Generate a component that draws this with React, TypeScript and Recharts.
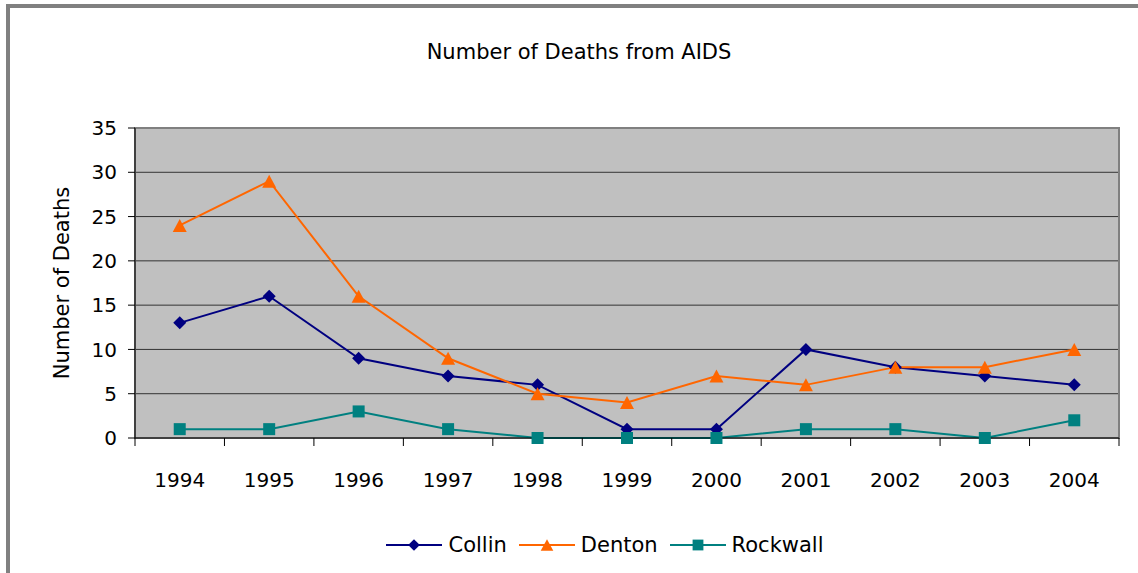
import React from 'react';
import { LineChart, Line, XAxis, YAxis, CartesianGrid, ReferenceArea, Legend, Label } from 'recharts';

const years = ['1994', '1995', '1996', '1997', '1998', '1999', '2000', '2001', '2002', '2003', '2004'];
const collin = [13, 16, 9, 7, 6, 1, 1, 10, 8, 7, 6];
const denton = [24, 29, 16, 9, 5, 4, 7, 6, 8, 8, 10];
const rockwall = [1, 1, 3, 1, 0, 0, 0, 1, 1, 0, 2];
const yTicks = [0, 5, 10, 15, 20, 25, 30, 35];
const seriesNames = ['Collin', 'Denton', 'Rockwall'];
const seriesColors = ['#000080', '#FF6600', '#008080'];
const seriesShapes = ['diamond', 'triangle', 'square'];
const title = 'Number of Deaths from AIDS';
const yLabel = 'Number of Deaths';

const data = years.map((y, i) => ({ year: y, Collin: collin[i], Denton: denton[i], Rockwall: rockwall[i] }));

const FONT = '"DejaVu Sans", sans-serif';
const W = 1138;
const H = 573;

function Marker({ shape, cx, cy, color, s = 1 }: any) {
  if (cx == null || cy == null) return null;
  if (shape === 'diamond') {
    const r = 6.5 * s;
    return <polygon points={`${cx},${cy - r} ${cx + r},${cy} ${cx},${cy + r} ${cx - r},${cy}`} fill={color} />;
  }
  if (shape === 'triangle') {
    const w = 7 * s;
    return <polygon points={`${cx},${cy - 6.5 * s} ${cx + w},${cy + 6.5 * s} ${cx - w},${cy + 6.5 * s}`} fill={color} />;
  }
  const r = 6 * s;
  return <rect x={cx - r} y={cy - r} width={2 * r} height={2 * r} fill={color} />;
}

function XTick(props: any) {
  const { x, y, payload } = props;
  const off = payload && payload.offset ? payload.offset : 0;
  const isLast = payload && payload.value === years[years.length - 1];
  return (
    <g>
      <line x1={x - off} y1={y} x2={x - off} y2={y + 8} stroke="#000" strokeWidth={1} />
      {isLast && <line x1={x + off} y1={y} x2={x + off} y2={y + 8} stroke="#000" strokeWidth={1} />}
      <text x={x} y={y + 42} textAnchor="middle" dominantBaseline="central" fontSize={20} fontFamily={FONT} fill="#000">
        {payload.value}
      </text>
    </g>
  );
}

function LegendContent() {
  return (
    <div
      style={{
        height: 60,
        display: 'flex',
        justifyContent: 'center',
        alignItems: 'center',
        paddingLeft: 72,
        paddingTop: 4,
        boxSizing: 'border-box',
        fontFamily: FONT,
        fontSize: 21,
        color: '#000',
        width: W,
      }}
    >
      {seriesNames.map((n, i) => (
        <div key={n} style={{ display: 'flex', alignItems: 'center', marginRight: i < seriesNames.length - 1 ? 12 : 0 }}>
          <svg width={56} height={20} style={{ display: 'block' }}>
            <line x1={0} y1={10} x2={56} y2={10} stroke={seriesColors[i]} strokeWidth={2} />
            <Marker shape={seriesShapes[i]} cx={28} cy={10} color={seriesColors[i]} s={0.9} />
          </svg>
          <span style={{ marginLeft: 6 }}>{n}</span>
        </div>
      ))}
    </div>
  );
}

export default function App() {
  return (
    <div style={{ position: 'absolute', left: 0, top: 0, width: W, height: H, background: '#fff', overflow: 'hidden' }}>
      <div
        style={{
          position: 'absolute',
          left: 6,
          top: 4,
          width: W - 6,
          height: H - 4,
          borderTop: '4px solid #808080',
          borderLeft: '4px solid #808080',
          boxSizing: 'border-box',
        }}
      />
      <div
        style={{
          position: 'absolute',
          left: 0,
          top: 40,
          width: W,
          paddingLeft: 20,
          boxSizing: 'border-box',
          textAlign: 'center',
          fontFamily: FONT,
          fontSize: 21,
          lineHeight: '24px',
          color: '#000',
        }}
      >
        {title}
      </div>
      <div style={{ position: 'absolute', left: 0, top: 0 }}>
        <LineChart width={W} height={H} data={data} margin={{ top: 128, right: 19, left: 0, bottom: 0 }}>
          <CartesianGrid vertical={false} fill="#C0C0C0" stroke="#333" strokeWidth={1} />
          <ReferenceArea y1={0} y2={35} fill="none" stroke="#808080" strokeWidth={2} ifOverflow="visible" />
          <XAxis
            dataKey="year"
            scale="band"
            height={75}
            tickSize={0}
            tickMargin={0}
            tickLine={false}
            axisLine={{ stroke: '#000', strokeWidth: 1 }}
            tick={<XTick />}
            interval={0}
          />
          <YAxis
            domain={[0, 35]}
            ticks={yTicks}
            width={135}
            tickSize={7}
            tickMargin={11}
            interval={0}
            axisLine={{ stroke: '#000', strokeWidth: 1 }}
            tickLine={{ stroke: '#000', strokeWidth: 1 }}
            tick={{ fontSize: 20, fill: '#000', fontFamily: FONT }}
          >
            <Label
              content={(p: any) => {
                const vb = p.viewBox || { x: 0, y: 128, width: 135, height: 310 };
                const cx = vb.x + 62;
                const cy = vb.y + vb.height / 2;
                return (
                  <text
                    x={cx}
                    y={cy}
                    transform={`rotate(-90 ${cx} ${cy})`}
                    textAnchor="middle"
                    dominantBaseline="central"
                    fontSize={21}
                    fontFamily={FONT}
                    fill="#000"
                  >
                    {yLabel}
                  </text>
                );
              }}
            />
          </YAxis>
          <Legend verticalAlign="bottom" content={<LegendContent />} wrapperStyle={{ left: 0, width: W }} />
          {seriesNames.map((n, i) => (
            <Line
              key={n}
              dataKey={n}
              stroke={seriesColors[i]}
              strokeWidth={2}
              isAnimationActive={false}
              dot={(p: any) => <Marker key={`${n}-${p.index}`} shape={seriesShapes[i]} cx={p.cx} cy={p.cy} color={seriesColors[i]} />}
              activeDot={false}
            />
          ))}
        </LineChart>
      </div>
    </div>
  );
}
